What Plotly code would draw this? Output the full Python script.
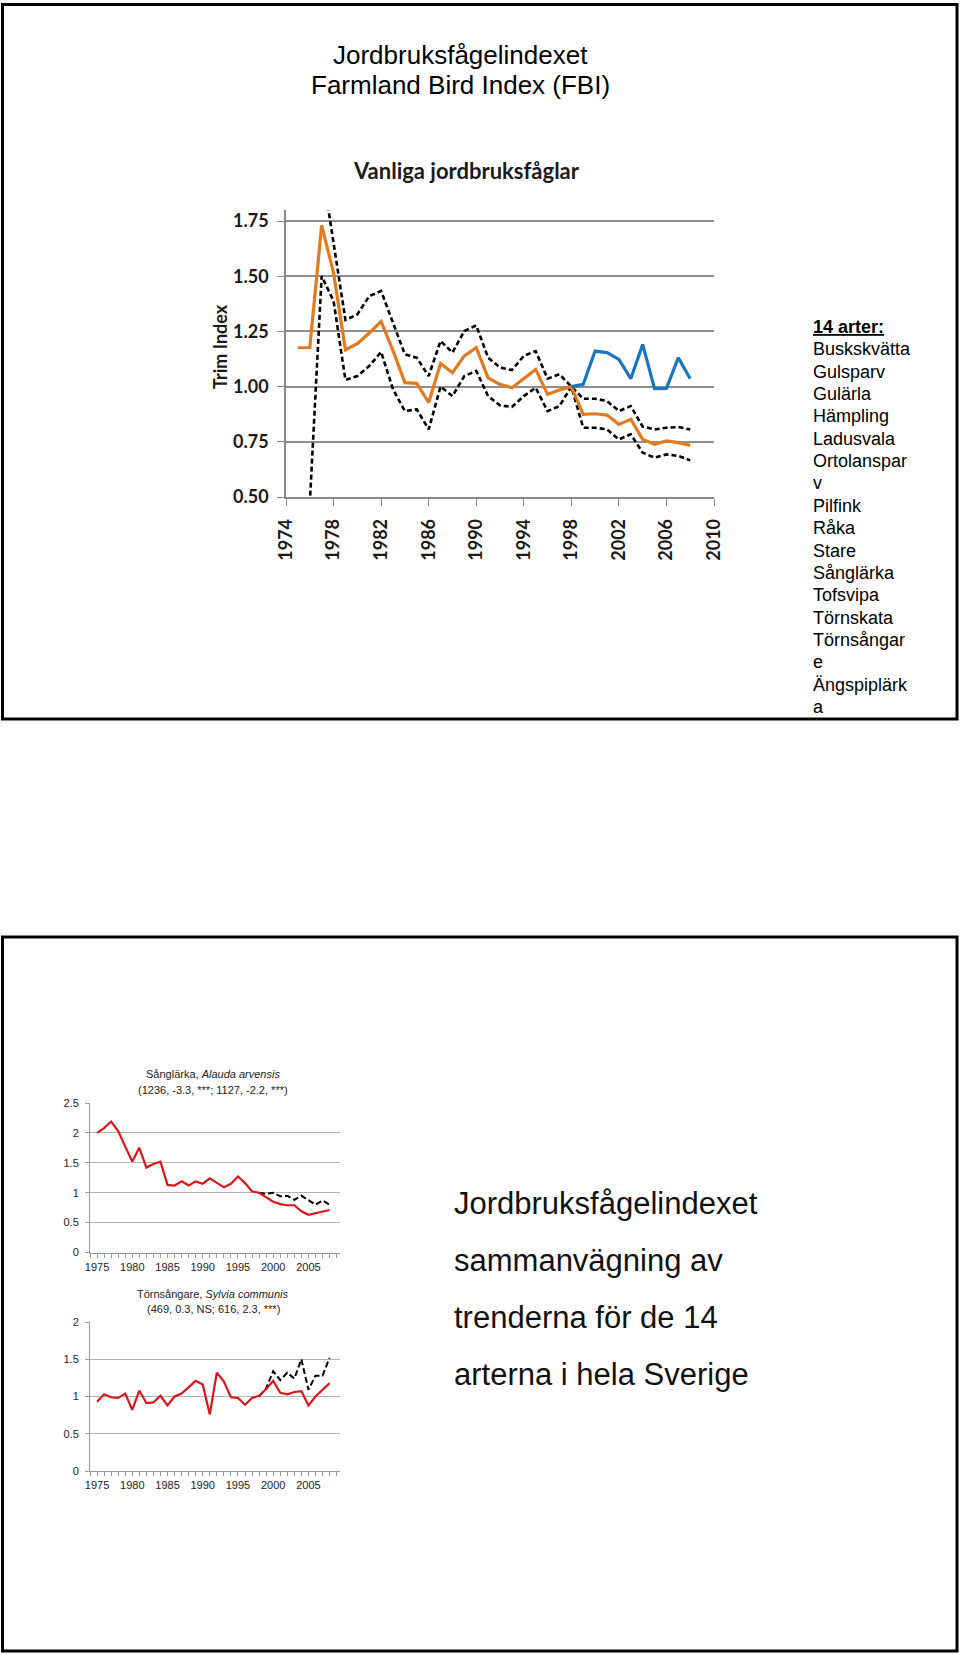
import plotly.graph_objects as go

W, H = 960, 1654

# --- Vanliga jordbruksfåglar (Trim index) ---
fbi_years = list(range(1975, 2009))
fbi_index = [1.176, 1.176, 1.730, 1.515, 1.167, 1.195, 1.243, 1.295, 1.163, 1.018,
             1.015, 0.928, 1.105, 1.063, 1.139, 1.176, 1.040, 1.010, 0.995, 1.036,
             1.078, 0.965, 0.985, 1.000, 0.874, 0.877, 0.871, 0.829, 0.852, 0.761,
             0.739, 0.754, 0.746, 0.734]
fbi_upper_years = list(range(1977, 2009))
fbi_upper = [2.00, 1.65, 1.302, 1.327, 1.410, 1.433, 1.290, 1.146, 1.131, 1.048,
             1.207, 1.154, 1.252, 1.277, 1.131, 1.086, 1.075, 1.139, 1.161, 1.036,
             1.056, 1.000, 0.945, 0.945, 0.935, 0.889, 0.912, 0.819, 0.806, 0.814,
             0.817, 0.806]
fbi_lower_years = list(range(1976, 2009))
fbi_lower = [0.47, 1.501, 1.388, 1.030, 1.048, 1.093, 1.157, 0.988, 0.889, 0.897,
             0.806, 1.000, 0.957, 1.048, 1.071, 0.957, 0.915, 0.908, 0.957, 0.995,
             0.889, 0.912, 1.000, 0.814, 0.814, 0.806, 0.761, 0.784, 0.701, 0.678,
             0.693, 0.686, 0.666]
blue_years = list(range(1998, 2009))
blue_index = [1.000, 1.010, 1.161, 1.154, 1.123, 1.036, 1.191, 0.991, 0.992, 1.131, 1.036]
fbi_xticks = list(range(1974, 2011, 4))
fbi_yticks = [0.50, 0.75, 1.00, 1.25, 1.50, 1.75]

# --- Sånglärka ---
sp_years = list(range(1975, 2009))
sanglarka = [2.00, 2.08, 2.19, 2.03, 1.77, 1.52, 1.75, 1.42, 1.48, 1.52,
             1.13, 1.12, 1.19, 1.12, 1.19, 1.15, 1.24, 1.17, 1.09, 1.15,
             1.27, 1.16, 1.02, 1.00, 0.93, 0.85, 0.81, 0.79, 0.79, 0.69,
             0.63, 0.66, 0.69, 0.71]
new_years = list(range(1998, 2009))
sanglarka_new = [1.00, 0.98, 1.00, 0.94, 0.95, 0.88, 0.95, 0.87, 0.80, 0.87, 0.80]

# --- Törnsångare ---
tornsangare = [0.93, 1.03, 0.99, 0.98, 1.04, 0.82, 1.08, 0.91, 0.92, 1.01,
               0.88, 1.00, 1.04, 1.12, 1.21, 1.16, 0.76, 1.32, 1.20, 0.99,
               0.98, 0.89, 0.98, 1.01, 1.10, 1.21, 1.05, 1.03, 1.06, 1.07,
               0.88, 1.00, 1.09, 1.18]
tornsangare_new = [1.00, 1.11, 1.34, 1.22, 1.32, 1.24, 1.50, 1.09, 1.28, 1.28, 1.52]

species = ["<b><u>14 arter:</u></b>", "Buskskvätta", "Gulsparv", "Gulärla", "Hämpling",
           "Ladusvala", "Ortolanspar", "v", "Pilfink", "Råka", "Stare", "Sånglärka",
           "Tofsvipa", "Törnskata", "Törnsångar", "e", "Ängspiplärk", "a"]

summary = ["Jordbruksfågelindexet", "sammanvägning av",
           "trenderna för de 14", "arterna i hela Sverige"]


def fx(p):
    return p / W


def fy(p):
    return 1 - p / H


fig = go.Figure()

dash_top = dict(color="black", width=2.6, dash="5px,3px")
fig.add_trace(go.Scatter(x=fbi_upper_years, y=fbi_upper, mode="lines", line=dash_top,
                         xaxis="x", yaxis="y"))
fig.add_trace(go.Scatter(x=fbi_lower_years, y=fbi_lower, mode="lines", line=dash_top,
                         xaxis="x", yaxis="y"))
fig.add_trace(go.Scatter(x=fbi_years, y=fbi_index, mode="lines",
                         line=dict(color="#E27A22", width=3.2), xaxis="x", yaxis="y"))
fig.add_trace(go.Scatter(x=blue_years, y=blue_index, mode="lines",
                         line=dict(color="#1B75BB", width=3.2), xaxis="x", yaxis="y"))

dash_small = dict(color="black", width=2, dash="6px,3px")
red = dict(color="#D9161C", width=2.2)
fig.add_trace(go.Scatter(x=new_years, y=sanglarka_new, mode="lines", line=dash_small,
                         xaxis="x2", yaxis="y2"))
fig.add_trace(go.Scatter(x=sp_years, y=sanglarka, mode="lines", line=red,
                         xaxis="x2", yaxis="y2"))
fig.add_trace(go.Scatter(x=new_years, y=tornsangare_new, mode="lines", line=dash_small,
                         xaxis="x3", yaxis="y3"))
fig.add_trace(go.Scatter(x=sp_years, y=tornsangare, mode="lines", line=red,
                         xaxis="x3", yaxis="y3"))

top_font = dict(family="Lato", size=18, color="#1a1a1a", weight="bold")
small_font = dict(family="Liberation Sans", size=11, color="#222")

small_x = dict(range=[1974, 2009.48], tickmode="linear", tick0=1975, dtick=5,
               ticks="outside", ticklen=4, tickcolor="#999", showline=True,
               linecolor="#999", linewidth=1, showgrid=False, zeroline=False,
               tickfont=small_font, ticklabelstandoff=0, automargin=False,
               minor=dict(ticks="outside", ticklen=4, tick0=1974, dtick=1,
                          tickcolor="#999", showgrid=False))
small_y = dict(tickmode="linear", tick0=0, dtick=0.5, ticks="outside", ticklen=4,
               tickcolor="#999", showline=True, linecolor="#999", linewidth=1,
               showgrid=True, gridcolor="#b3b3b3", gridwidth=1, zeroline=False,
               tickfont=small_font, ticklabelstandoff=4, automargin=False)

fig.update_layout(
    width=W, height=H, margin=dict(l=0, r=0, t=0, b=0, pad=0, autoexpand=False),
    paper_bgcolor="white", plot_bgcolor="white", showlegend=False,
    xaxis=dict(domain=[fx(286), fx(714)], range=[1974, 2010], anchor="y",
               tickmode="array", tickvals=fbi_xticks, tickangle=-90,
               ticks="outside", ticklen=7, tickcolor="#888", showline=True,
               linecolor="#888", linewidth=1.5, showgrid=False, zeroline=False,
               tickfont=top_font, ticklabelstandoff=6, automargin=False),
    yaxis=dict(domain=[fy(497), fy(210)], range=[0.5, 1.80], anchor="x",
               tickmode="array", tickvals=fbi_yticks,
               ticktext=[f"{v:.2f}" for v in fbi_yticks],
               ticks="outside", ticklen=7, tickcolor="#888", showline=True,
               linecolor="#888", linewidth=1.5, showgrid=True, gridcolor="#8f8f8f",
               gridwidth=1.5, zeroline=False, tickfont=top_font, ticklabelstandoff=5,
               automargin=False),
    xaxis2=dict(domain=[fx(90), fx(340)], anchor="y2", **small_x),
    yaxis2=dict(domain=[fy(1252.5), fy(1103)], range=[0, 2.5], anchor="x2", **small_y),
    xaxis3=dict(domain=[fx(90), fx(340)], anchor="y3", **small_x),
    yaxis3=dict(domain=[fy(1471), fy(1322)], range=[0, 2], anchor="x3", **small_y),
)

ann = []


def text(x, y, s, size, family="Liberation Sans", xanchor="center", color="black",
         weight="normal", angle=0):
    ann.append(dict(x=fx(x), y=fy(y), xref="paper", yref="paper", text=s,
                    showarrow=False, xanchor=xanchor, yanchor="middle", textangle=angle,
                    font=dict(family=family, size=size, color=color, weight=weight)))


text(460, 55, "Jordbruksfågelindexet", 26)
text(460, 85, "Farmland Bird Index (FBI)", 26)
text(466, 171, "Vanliga jordbruksfåglar", 22, family="Lato", weight="bold",
     color="#1a1a1a")
text(220, 347, "Trim Index", 18, family="Lato", weight="bold", color="#1a1a1a",
     angle=-90)

for i, s in enumerate(species):
    text(811, 327 + i * 22.35, s, 18, xanchor="left")

text(213, 1074, "Sånglärka, <i>Alauda arvensis</i>", 11, color="#222")
text(213, 1090, "(1236, -3.3, ***; 1127, -2.2, ***)", 11, color="#222")
text(213, 1294, "Törnsångare, <i>Sylvia communis</i>", 11, color="#222")
text(213, 1309, "(469, 0.3, NS; 616, 2.3, ***)", 11, color="#222")

for i, s in enumerate(summary):
    text(452, 1203 + i * 57, s, 31, xanchor="left", color="#111")

fig.update_layout(annotations=ann)

box = dict(color="black", width=3)
fig.add_shape(type="rect", xref="paper", yref="paper", x0=fx(2.5), x1=fx(957),
              y0=fy(719), y1=fy(4.5), line=box)
fig.add_shape(type="rect", xref="paper", yref="paper", x0=fx(2.5), x1=fx(957),
              y0=fy(1651), y1=fy(937), line=box)

fig.write_html("out.html", config={"displayModeBar": False},
               post_script="document.body.style.margin='0';"
                           "document.body.style.overflow='hidden';")
